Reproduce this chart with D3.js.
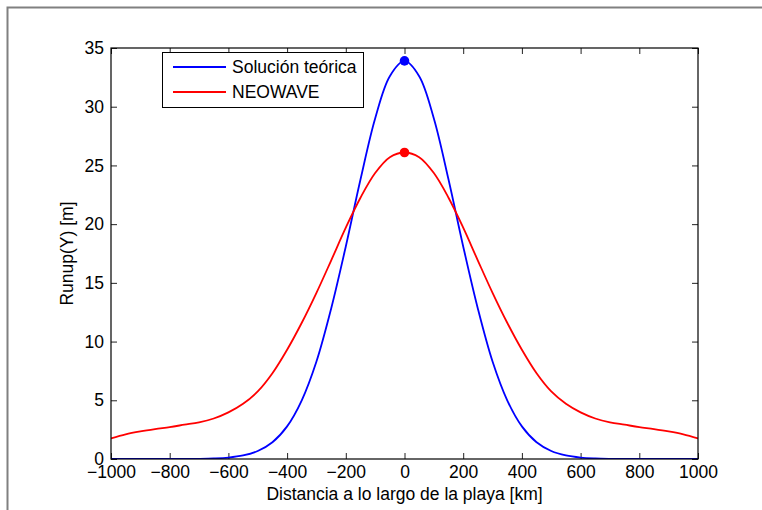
<!DOCTYPE html>
<html>
<head>
<meta charset="utf-8">
<script src="https://cdn.jsdelivr.net/npm/d3@7"></script>
<style>
  html, body { margin: 0; padding: 0; background: #fff; }
  svg { display: block; }
  text { font-family: "Liberation Sans", Arial, Helvetica, sans-serif; fill: #000; }
</style>
</head>
<body>
<svg id="chart" width="762" height="510"></svg>
<script>
// ---- data ----
const distancias = [-1000,-950,-900,-850,-800,-750,-700,-650,-600,-550,-500,-450,-400,-350,-300,-250,-200,-150,-100,-50,
                    0,50,100,150,200,250,300,350,400,450,500,550,600,650,700,750,800,850,900,950,1000];
const solucionTeorica = [0,0,0,0,0.001,0.005,0.016,0.046,0.12,0.30,0.68,1.43,2.78,5.0,8.3,12.8,18.1,23.8,29.0,32.6,
                         33.9,32.6,29.0,23.8,18.1,12.8,8.3,5.0,2.78,1.43,0.68,0.30,0.12,0.046,0.016,0.005,0.001,0,0,0,0];
const neowave = [1.75,2.1,2.35,2.55,2.72,2.92,3.12,3.45,3.97,4.7,5.75,7.3,9.3,11.6,14.15,16.9,19.7,22.25,24.35,25.7,
                 26.1,25.7,24.35,22.25,19.7,16.9,14.15,11.6,9.3,7.3,5.75,4.7,3.97,3.45,3.12,2.92,2.72,2.55,2.35,2.1,1.75];
const picos = [{name: "Solución teórica", x: 0, y: 33.9}, {name: "NEOWAVE", x: 0, y: 26.1}];
const seriesNames = ["Solución teórica", "NEOWAVE"];
const seriesColors = ["#0000ff", "#ff0000"];
const xTicks = [-1000,-800,-600,-400,-200,0,200,400,600,800,1000];
const yTicks = [0,5,10,15,20,25,30,35];
const xLabel = "Distancia a lo largo de la playa [km]";
const yLabel = "Runup(Y) [m]";

// ---- layout ----
const svg = d3.select("#chart");
const L = 111, R = 698, T = 48, B = 459;
const FS = 17.5;

// figure border (top/left gray edge)
svg.append("path").attr("d", "M7.5,510 V7.5 H762").attr("fill", "none")
  .attr("stroke", "#808080").attr("stroke-width", 2);

const x = d3.scaleLinear().domain([-1000, 1000]).range([L, R]);
const y = d3.scaleLinear().domain([0, 35]).range([B, T]);

const tl = 6;
// bottom axis
const gx = svg.append("g").attr("transform", `translate(0,${B})`)
  .call(d3.axisBottom(x).tickValues(xTicks).tickSizeInner(-tl).tickSizeOuter(0)
        .tickPadding(7).tickFormat(d => d < 0 ? "\u2212" + Math.abs(d) : d));
// top axis
const gxt = svg.append("g").attr("transform", `translate(0,${T})`)
  .call(d3.axisTop(x).tickValues(xTicks).tickSizeInner(-tl).tickSizeOuter(0).tickFormat(""));
// left axis
const gy = svg.append("g").attr("transform", `translate(${L},0)`)
  .call(d3.axisLeft(y).tickValues(yTicks).tickSizeInner(-tl).tickSizeOuter(0).tickPadding(7));
// right axis
const gyr = svg.append("g").attr("transform", `translate(${R},0)`)
  .call(d3.axisRight(y).tickValues(yTicks).tickSizeInner(-tl).tickSizeOuter(0).tickFormat(""));

[gx, gxt, gy, gyr].forEach(g => {
  g.select(".domain").remove();
  g.selectAll(".tick line").attr("stroke", "#222").attr("stroke-width", 1);
  g.selectAll(".tick text").attr("font-size", FS).attr("font-family", '"Liberation Sans", Arial, sans-serif').attr("fill", "#000");
});

// plot clip
svg.append("clipPath").attr("id", "clip").append("rect")
  .attr("x", L).attr("y", T).attr("width", R - L).attr("height", B - T);

const line = d3.line().x(d => x(d[0])).y(d => y(d[1])).curve(d3.curveCatmullRom.alpha(0.5));
const series = [solucionTeorica, neowave];
series.forEach((vals, i) => {
  svg.append("path")
    .datum(distancias.map((d, j) => [d, vals[j]]))
    .attr("clip-path", "url(#clip)")
    .attr("fill", "none").attr("stroke", seriesColors[i]).attr("stroke-width", 1.8)
    .attr("d", line);
});

// peak markers
svg.selectAll("circle.peak").data(picos).enter().append("circle")
  .attr("class", "peak")
  .attr("cx", d => x(d.x)).attr("cy", d => y(d.y)).attr("r", 4.8)
  .attr("fill", (d, i) => seriesColors[i]);

// axes box
svg.append("rect").attr("x", L).attr("y", T).attr("width", R - L).attr("height", B - T)
  .attr("fill", "none").attr("stroke", "#000").attr("stroke-width", 1.2);

// legend
const lg = svg.append("g");
lg.append("rect").attr("x", 162.5).attr("y", 52.5).attr("width", 201).attr("height", 55)
  .attr("fill", "#fff").attr("stroke", "#000").attr("stroke-width", 1);
seriesNames.forEach((n, i) => {
  const yy = 67 + i * 25;
  lg.append("line").attr("x1", 173).attr("x2", 226).attr("y1", yy).attr("y2", yy)
    .attr("stroke", seriesColors[i]).attr("stroke-width", 1.8);
  lg.append("text").attr("x", 232).attr("y", yy + 6).attr("font-size", FS).text(n);
});

// axis labels
svg.append("text").attr("x", (L + R) / 2).attr("y", 500).attr("text-anchor", "middle")
  .attr("font-size", FS).text(xLabel);
svg.append("text").attr("transform", `translate(73,${(T + B) / 2}) rotate(-90)`)
  .attr("text-anchor", "middle").attr("font-size", FS).text(yLabel);
</script>
</body>
</html>
